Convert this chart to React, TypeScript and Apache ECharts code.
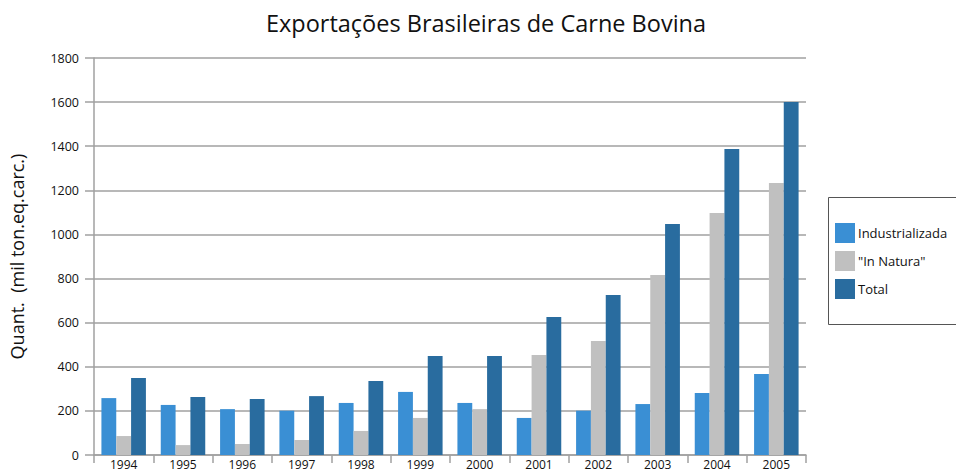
import React, { useEffect, useRef } from "react";
import * as echarts from "echarts";

const years = ["1994", "1995", "1996", "1997", "1998", "1999", "2000", "2001", "2002", "2003", "2004", "2005"];
const industrializada = [258, 227, 208, 201, 236, 286, 236, 168, 201, 231, 281, 367];
const inNatura = [86, 45, 50, 68, 109, 168, 208, 453, 517, 816, 1097, 1233];
const total = [349, 263, 254, 267, 335, 449, 449, 626, 725, 1047, 1387, 1600];
const seriesNames = ["Industrializada", "\"In Natura\"", "Total"];
const colors = ["#3a8fd4", "#c0c0c0", "#296c9f"];

const FONT = "Open Sans";

export default function App() {
  const ref = useRef<HTMLDivElement>(null);
  useEffect(() => {
    if (!ref.current) return;
    const chart = echarts.init(ref.current, undefined, { renderer: "svg" });
    const datas = [industrializada, inNatura, total];
    chart.setOption({
      animation: false,
      backgroundColor: "#ffffff",
      textStyle: { fontFamily: FONT },
      title: {
        text: "Exportações Brasileiras de Carne Bovina",
        left: 481,
        textAlign: "center",
        top: 6,
        textStyle: { fontFamily: FONT, fontSize: 23.5, fontWeight: "normal", color: "#111" },
      },
      grid: { left: 94, right: 150, top: 58, bottom: 18, containLabel: false },
      legend: {
        orient: "vertical",
        left: 835,
        top: 223,
        itemWidth: 20,
        itemHeight: 20,
        itemGap: 8,
        padding: 0,
        icon: "rect",
        textStyle: { fontFamily: FONT, fontSize: 13, color: "#111", padding: [2, 0, 0, -2] },
        data: seriesNames,
      },
      graphic: [
        {
          type: "rect",
          left: 826,
          top: 195,
          shape: { width: 129, height: 127 },
          style: { fill: "none", stroke: "#555", lineWidth: 1 },
          z: -1,
        },
      ],
      xAxis: {
        type: "category",
        data: years,
        axisLine: { lineStyle: { color: "#a0a0a0", width: 1.5 } },
        axisTick: { show: true, length: 8, lineStyle: { color: "#a0a0a0", width: 1.5 } },
        axisLabel: { fontFamily: FONT, fontSize: 12, color: "#111", margin: 3 },
      },
      yAxis: {
        type: "value",
        min: 0,
        max: 1800,
        interval: 200,
        name: "Quant.  (mil ton.eq.carc.)",
        nameLocation: "middle",
        nameGap: 68,
        nameTextStyle: { fontFamily: FONT, fontSize: 18, color: "#111" },
        axisLine: { show: true, lineStyle: { color: "#a0a0a0", width: 1.5 } },
        axisTick: { show: true, length: 9, lineStyle: { color: "#a0a0a0", width: 1.5 } },
        axisLabel: { fontFamily: FONT, fontSize: 12.5, color: "#111", margin: 15, formatter: (v: number) => String(v) },
        splitLine: { show: true, lineStyle: { color: "#a0a0a0", width: 1.5 } },
      },
      series: seriesNames.map((name, i) => ({
        name,
        type: "bar",
        data: datas[i],
        barGap: "0%",
        barCategoryGap: "25%",
        itemStyle: { color: colors[i] },
      })),
    });
    return () => chart.dispose();
  }, []);
  return <div ref={ref} style={{ width: 956, height: 473, position: "absolute", left: 0, top: 0 }} />;
}
